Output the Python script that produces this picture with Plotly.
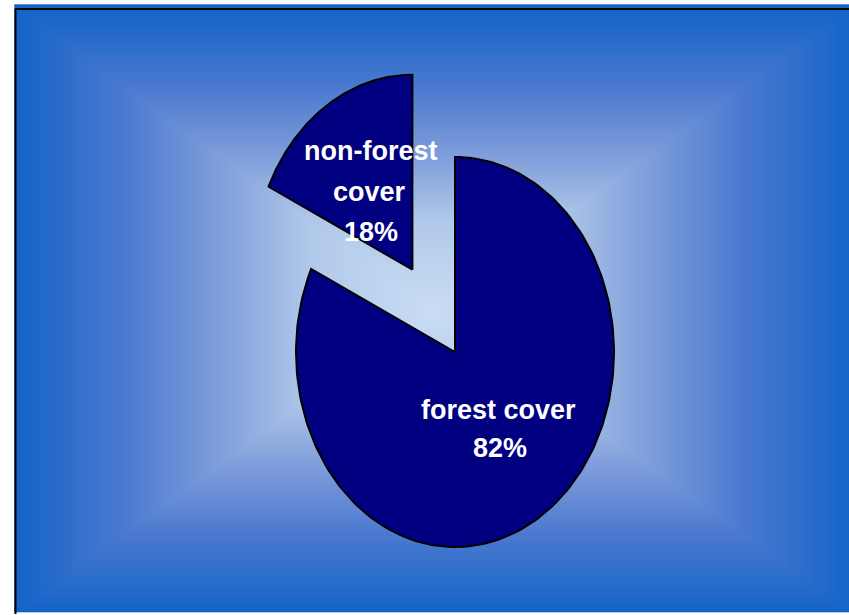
import numpy as np
import plotly.graph_objects as go

# ---- data ----
labels = ["forest cover", "non-forest cover"]
values = [82, 18]
label_lines = [["forest cover", "82%"], ["non-forest", "cover", "18%"]]
pulls = [0.0, 0.5]

W, H = 849, 615
fig = go.Figure()

# ---- background: rectangular "from centre" gradient (decorative) ----
x0, x1, y0, y1 = 16, 849, 6, 611
gx = np.linspace(x0, x1, 240)
gy = np.linspace(y0, y1, 180)
cxg, cyg = (x0 + x1) / 2, (9 + 611) / 2
hw, hh = (x1 - x0) / 2, (611 - 9) / 2
GX, GY = np.meshgrid(gx, gy)
Z = np.maximum(np.abs(GX - cxg) / hw, np.abs(GY - cyg) / hh)
fig.add_trace(go.Heatmap(
    x=gx, y=gy, z=Z, zmin=0, zmax=1, zsmooth="best", showscale=False,
    hoverinfo="skip",
    colorscale=[[0, "#c9ddf3"], [0.3, "#b0c8ea"], [0.5, "#82a0db"],
                [0.75, "#4a78cf"], [1, "#1464c8"]],
))

# ---- pie drawn as filled wedges (elliptical, as in the reference) ----
cx, cy, rx, ry = 455, 352, 159, 195
total = sum(values)
start = 0.0
for lab, v, p, lines in zip(labels, values, pulls, label_lines):
    a0 = start
    a1 = start + 360.0 * v / total
    start = a1
    mid = np.radians((a0 + a1) / 2)
    ox = p * rx * np.sin(mid)
    oy = -p * ry * np.cos(mid)
    t = np.radians(np.linspace(a0, a1, 200))
    xs = np.concatenate([[cx], cx + rx * np.sin(t), [cx]]) + ox
    ys = np.concatenate([[cy], cy - ry * np.cos(t), [cy]]) + oy
    fig.add_trace(go.Scatter(
        x=xs, y=ys, mode="lines", fill="toself", fillcolor="#000080",
        line=dict(color="black", width=2), hoverinfo="skip", name=lab,
        showlegend=False,
    ))

# ---- slice labels ----
label_pos = {
    "forest cover": [(498, 410), (500, 448)],
    "non-forest cover": [(370, 151), (369, 192), (371, 232)],
}
for lab, lines in zip(labels, label_lines):
    for txt, (lx, ly) in zip(lines, label_pos[lab]):
        fig.add_annotation(
            x=lx, y=ly, xref="x", yref="y", text=txt, showarrow=False,
            xanchor="center", yanchor="middle",
            font=dict(family="Liberation Sans, Arial, sans-serif", size=27,
                      color="white", weight="bold"),
        )

# ---- frame lines ----
fig.add_shape(type="line", x0=15, x1=849, y0=9, y1=9, xref="x", yref="y",
              line=dict(color="black", width=2))
fig.add_shape(type="line", x0=15.5, x1=15.5, y0=9, y1=614, xref="x", yref="y",
              line=dict(color="black", width=2))

fig.update_layout(
    width=W, height=H, margin=dict(l=0, r=0, t=0, b=0),
    paper_bgcolor="white", plot_bgcolor="white", showlegend=False,
    hovermode=False,
    xaxis=dict(range=[0, W], visible=False, fixedrange=True),
    yaxis=dict(range=[H, 0], visible=False, fixedrange=True),
)

fig.write_html(
    "out.html",
    config={"displayModeBar": False, "staticPlot": True},
    post_script="document.body.style.margin='0';document.body.style.overflow='hidden';",
)
